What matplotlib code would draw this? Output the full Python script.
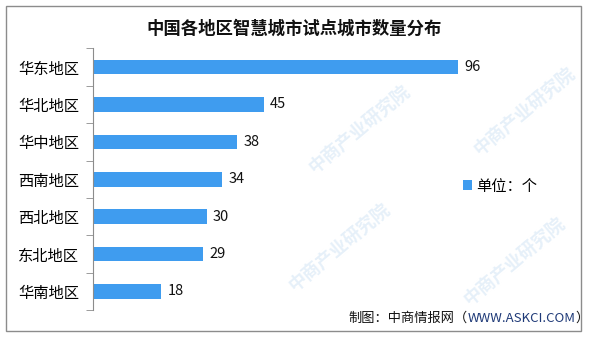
import matplotlib
matplotlib.use('Agg')
import matplotlib.pyplot as plt
from matplotlib.patches import Rectangle

plt.rcParams['font.family'] = ['Noto Sans CJK SC', 'DejaVu Sans']

# data
regions = ['华东地区', '华北地区', '华中地区', '西南地区', '西北地区', '东北地区', '华南地区']
counts = [96, 45, 38, 34, 30, 29, 18]
title = '中国各地区智慧城市试点城市数量分布'
unit_label = '单位：个'
source_head = '制图：中商情报网（'
source_url = 'WWW.ASKCI.COM'
source_tail = '）'
watermark = '中商产业研究院'

W, H = 589, 337
bar_color = '#3f9cef'

fig = plt.figure(figsize=(W / 100, H / 100), dpi=100)

# outer frame
fig.patches.append(Rectangle((5.5 / W, 1 - 331 / H), 575.5 / W, 325 / H,
                             transform=fig.transFigure, fill=False,
                             edgecolor='#8c8c8c', linewidth=1.0, zorder=0))

# faint watermarks, kept clear of the labels
for (x, y) in [(360, 130), (340, 248), (525, 112), (515, 262)]:
    fig.text(x / W, 1 - y / H, watermark, rotation=40, ha='center', va='center',
             fontsize=13, color='#e6f0f9', fontweight='bold', zorder=-1)

ax = fig.add_axes([93 / W, 1 - 310.2 / H, 456 / W, 261.9 / H])
ax.patch.set_alpha(0)

ypos = list(range(len(regions)))
bars = ax.barh(ypos, counts, height=0.39, color=bar_color, zorder=2)

ax.set_xlim(0, 120)
ax.set_ylim(len(regions) - 0.5, -0.5)

for y, v in zip(ypos, counts):
    ax.text(v + 1.6, y, str(v), va='center', ha='left', fontsize=10.5, color='#111111')

# axes styling
for s in ['top', 'right', 'bottom']:
    ax.spines[s].set_visible(False)
ax.spines['left'].set_color('#8c8c8c')
ax.set_xticks([])
ax.set_yticks(ypos)
ax.set_yticklabels(regions, fontsize=11)
ax.tick_params(axis='y', which='major', length=0, pad=10)
ax.set_yticks([i - 0.5 for i in range(len(regions) + 1)], minor=True)
ax.tick_params(axis='y', which='minor', length=5, color='#8c8c8c')

# title
fig.text(294 / W, 1 - 29 / H, title, ha='center', va='center',
         fontsize=12.5, fontweight='bold', color='#111111')

# legend
ax.legend([bars], [unit_label], loc='center left',
          bbox_to_anchor=(455 / W, 1 - 186 / H), bbox_transform=fig.transFigure,
          frameon=False, fontsize=11, handlelength=0.6, handleheight=0.6,
          handletextpad=0.3, borderpad=0)

# source line
t1 = fig.text(348 / W, 1 - 318 / H, source_head, ha='left', va='center',
              fontsize=9.5, color='#111111')
fig.canvas.draw()
bb = t1.get_window_extent()
t2 = fig.text(bb.x1 / W, 1 - 318 / H, source_url, ha='left', va='center',
              fontsize=9.5, color='#1f3a78')
fig.canvas.draw()
bb2 = t2.get_window_extent()
fig.text(bb2.x1 / W, 1 - 318 / H, source_tail, ha='left', va='center',
         fontsize=9.5, color='#111111')

fig.savefig('out.png', dpi=100)
